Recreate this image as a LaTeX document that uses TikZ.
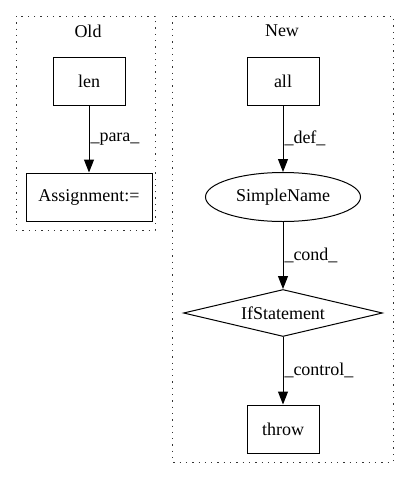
\documentclass[tikz,border=0pt]{standalone}
\usepackage{fontspec}
\setmainfont{Liberation Serif}
\usetikzlibrary{arrows.meta,shapes.geometric}

\begin{document}
\begin{tikzpicture}[x=1pt,y=-1pt,>={Triangle[length=13pt,width=10pt]},font=\fontsize{18}{21}\selectfont]
	\useasboundingbox (0,0) rectangle (408,480);
	\tikzstyle{cluster} = [draw=black!80,line width=1pt,dash pattern=on 1.3pt off 5pt];
	\tikzstyle{box} = [rectangle,draw=black,line width=1pt,minimum height=48pt,inner sep=0pt];
	\tikzstyle{lbl} = [right,inner sep=1pt];
	% clusters
	\draw[cluster] (16,16) rectangle (155,230);
	\draw[cluster] (172,16) rectangle (393,462);
	\node[inner sep=0pt] (old) at (88,31) {Old};
	\node[inner sep=0pt] (new) at (282,31) {New};
	% nodes
	\node[box,minimum width=72pt] (len) at (89,81) {len};
	\node[box,minimum width=126pt] (assign) at (89,197) {Assignment:=};
	\node[box,minimum width=72pt] (all) at (283,81) {all};
	\node[ellipse,draw=black,line width=1pt,minimum width=155pt,minimum height=49pt,inner sep=0pt] (simple) at (283,197) {SimpleName};
	\node[diamond,draw=black,line width=1pt,minimum width=199pt,minimum height=47pt,inner sep=0pt,aspect=4.2] (ifst) at (283,313) {IfStatement};
	\node[box,minimum width=72pt] (throw) at (283,429) {throw};
	% edges
	\draw[->,line width=1pt] (len) -- node[lbl] {\_para\_} (assign);
	\draw[->,line width=1pt] (all) -- node[lbl] {\_def\_} (simple);
	\draw[->,line width=1pt] (simple) -- node[lbl] {\_cond\_} (ifst);
	\draw[->,line width=1pt] (ifst) -- node[lbl] {\_control\_} (throw);
\end{tikzpicture}
\end{document}
